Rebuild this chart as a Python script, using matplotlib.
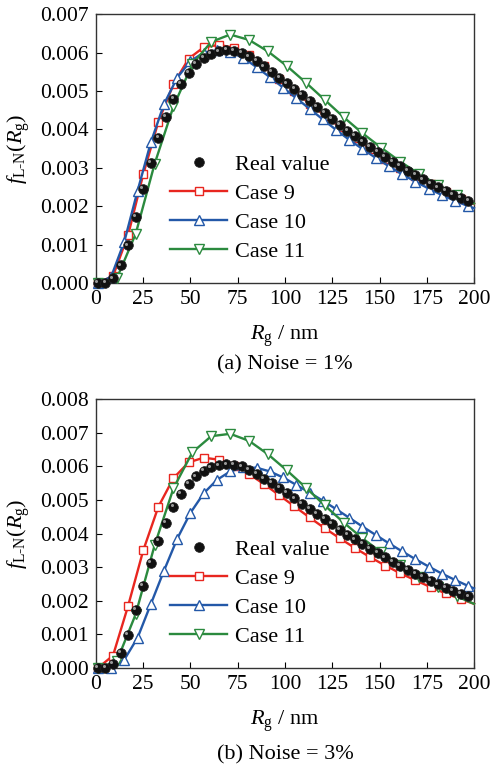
import matplotlib
matplotlib.use("Agg")
import matplotlib.pyplot as plt
import matplotlib.transforms as mtransforms

plt.rcParams['font.family'] = ['Liberation Serif', 'DejaVu Serif']
plt.rcParams['mathtext.fontset'] = 'custom'
plt.rcParams['mathtext.rm'] = 'Liberation Serif'
plt.rcParams['mathtext.it'] = 'Liberation Serif:italic'
plt.rcParams['font.size'] = 16

# ---- data ----
# real value (same in both panels), every 4 nm
x_real = [1, 5, 9, 13, 17, 21, 25, 29, 33, 37, 41, 45, 49, 53, 57, 61, 65, 69, 73, 77,
          81, 85, 89, 93, 97, 101, 105, 109, 113, 117, 121, 125, 129, 133, 137, 141,
          145, 149, 153, 157, 161, 165, 169, 173, 177, 181, 185, 189, 193, 197]
y_real = [0.0, 0.00001, 0.00012, 0.00046, 0.00098, 0.00172, 0.00245, 0.00313, 0.00378,
          0.00432, 0.00480, 0.00518, 0.00548, 0.00570, 0.00586, 0.00597, 0.00603, 0.00606,
          0.00604, 0.00600, 0.00590, 0.00578, 0.00564, 0.00550, 0.00535, 0.00520, 0.00505,
          0.00489, 0.00474, 0.00458, 0.00443, 0.00428, 0.00412, 0.00397, 0.00383, 0.00369,
          0.00355, 0.00342, 0.00329, 0.00316, 0.00304, 0.00292, 0.00281, 0.00270, 0.00259,
          0.00249, 0.00239, 0.00230, 0.00221, 0.00213]

# Case 9, every 8 nm (+ end point)
x_c9 = [1, 9, 17, 25, 33, 41, 49, 57, 65, 73, 81, 89, 97, 105, 113, 121, 129, 137, 145,
        153, 161, 169, 177, 185, 193, 200]
y_c9_a = [0.0, 0.00018, 0.00125, 0.00283, 0.00420, 0.00518, 0.00584, 0.00614, 0.00620,
          0.00613, 0.00595, 0.00565, 0.00532, 0.00499, 0.00467, 0.00436, 0.00406, 0.00377,
          0.00350, 0.00324, 0.00300, 0.00278, 0.00257, 0.00238, 0.00220, 0.00206]
y_c9_b = [0.0, 0.00037, 0.00185, 0.00350, 0.00480, 0.00565, 0.00612, 0.00626, 0.00620,
          0.00602, 0.00577, 0.00547, 0.00514, 0.00481, 0.00448, 0.00416, 0.00386, 0.00357,
          0.00330, 0.00305, 0.00282, 0.00261, 0.00241, 0.00222, 0.00205, 0.00191]

# Case 10, every 7 nm (+ end point)
x_c10 = [1, 8, 15, 22, 29, 36, 43, 50, 57, 64, 71, 78, 85, 92, 99, 106, 113, 120, 127,
         134, 141, 148, 155, 162, 169, 176, 183, 190, 197, 200]
y_c10_a = [0.0, 0.00016, 0.00108, 0.00240, 0.00366, 0.00466, 0.00535, 0.00578, 0.00600,
           0.00606, 0.00601, 0.00586, 0.00562, 0.00536, 0.00509, 0.00481, 0.00454, 0.00426,
           0.00399, 0.00373, 0.00349, 0.00326, 0.00304, 0.00283, 0.00264, 0.00246, 0.00229,
           0.00214, 0.00200, 0.00195]
y_c10_b = [0.0, 0.00001, 0.00025, 0.00090, 0.00190, 0.00290, 0.00385, 0.00462, 0.00520,
           0.00560, 0.00585, 0.00597, 0.00596, 0.00585, 0.00567, 0.00545, 0.00522, 0.00498,
           0.00473, 0.00447, 0.00421, 0.00396, 0.00371, 0.00347, 0.00324, 0.00302, 0.00281,
           0.00262, 0.00244, 0.00237]

# Case 11, every 10 nm (+ end point)
x_c11 = [1, 11, 21, 31, 41, 51, 61, 71, 81, 91, 101, 111, 121, 131, 141, 151, 161, 171,
         181, 191, 200]
y_c11_a = [0.0, 0.00012, 0.00128, 0.00310, 0.00460, 0.00570, 0.00628, 0.00647, 0.00633,
           0.00603, 0.00565, 0.00522, 0.00477, 0.00432, 0.00390, 0.00352, 0.00316, 0.00284,
           0.00255, 0.00229, 0.00207]
y_c11_b = [0.0, 0.00020, 0.00160, 0.00365, 0.00535, 0.00642, 0.00690, 0.00697, 0.00676,
           0.00636, 0.00588, 0.00537, 0.00484, 0.00433, 0.00386, 0.00344, 0.00306, 0.00272,
           0.00241, 0.00213, 0.00191]

x_ticks = [0, 25, 50, 75, 100, 125, 150, 175, 200]

RED = '#e8261f'
BLUE = '#2358a8'
GREEN = '#2b8a3e'


def draw_panel(fig, ax, c9, c10, c11, ymax, caption, cap_y):
    # real value: black spheres with a small highlight
    ax.plot(x_real, y_real, 'o', color='#111111', ms=7, mec='#222222', mew=0.5,
            label='Real value', zorder=5, clip_on=False)
    shift = mtransforms.ScaledTranslation(-1.3 / 72, 1.3 / 72, fig.dpi_scale_trans)
    ax.plot(x_real, y_real, 'o', color='#9a9a9a', ms=2.2, mew=0,
            transform=ax.transData + shift, zorder=6, clip_on=False)

    ax.plot(x_c9, c9, '-s', color=RED, lw=1.7, ms=5.5, mfc='white', mec=RED, mew=1.0,
            markevery=slice(0, -1), label='Case 9', zorder=3, clip_on=False)
    ax.plot(x_c10, c10, '-^', color=BLUE, lw=1.7, ms=6.5, mfc='white', mec=BLUE, mew=1.0,
            markevery=slice(0, -1), label='Case 10', zorder=3, clip_on=False)
    ax.plot(x_c11, c11, '-v', color=GREEN, lw=1.7, ms=6.5, mfc='white', mec=GREEN, mew=1.0,
            markevery=slice(0, -1), label='Case 11', zorder=3, clip_on=False)

    ax.set_xlim(0, 200)
    ax.set_ylim(0, ymax)
    ax.set_xticks(x_ticks)
    ax.set_yticks([i * 0.001 for i in range(int(round(ymax / 0.001)) + 1)])
    ax.yaxis.set_major_formatter(plt.FuncFormatter(lambda v, p: f'{v:.3f}'))
    ax.tick_params(direction='in', length=4, width=0.8, pad=5, labelsize=15.5,
                   top=False, right=False)
    for sp in ax.spines.values():
        sp.set_color('#333333')
        sp.set_linewidth(1.0)

    ax.set_ylabel(r'$f_{\mathrm{L‐N}}(R_\mathrm{g})$', fontsize=16)
    ax.yaxis.set_label_coords(-0.17, 0.5)
    ax.set_xlabel(r'$R_\mathrm{g}$ / nm', fontsize=16)
    ax.xaxis.set_label_coords(0.5, -0.15)

    ax.legend(loc='upper left', bbox_to_anchor=(0.195, 0.478), frameon=False,
              borderpad=0, borderaxespad=0, handlelength=2.6, handletextpad=0.35,
              labelspacing=0.38, fontsize=16)

    pos = ax.get_position()
    fig.text((pos.x0 + pos.x1) / 2, cap_y, caption, ha='center', va='center', fontsize=16)


if __name__ == "__main__":
    fig = plt.figure(figsize=(4.91, 7.68), dpi=100)
    ax_a = fig.add_axes([0.1955, 0.6315, 0.7699, 0.350])
    ax_b = fig.add_axes([0.1955, 0.1302, 0.7699, 0.350])

    draw_panel(fig, ax_a, y_c9_a, y_c10_a, y_c11_a, 0.007, '(a) Noise = 1%', 0.5247)
    draw_panel(fig, ax_b, y_c9_b, y_c10_b, y_c11_b, 0.008, '(b) Noise = 3%', 0.0169)

    fig.savefig('out.png', dpi=100)
    plt.close(fig)
